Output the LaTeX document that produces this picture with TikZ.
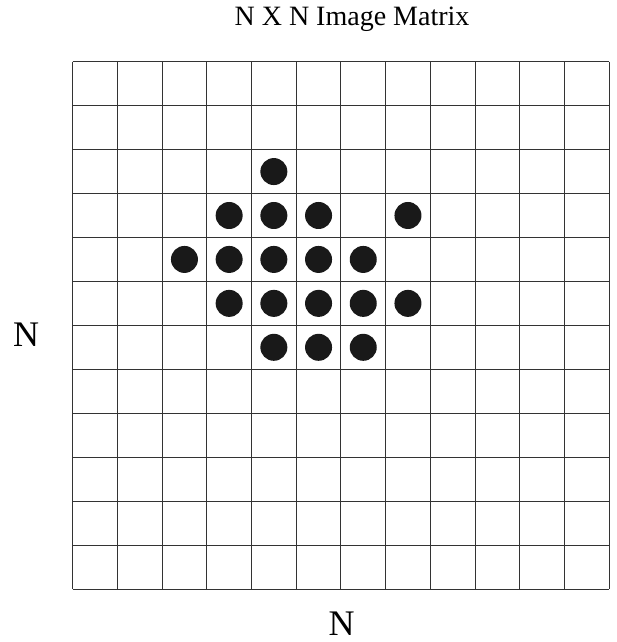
\documentclass[tikz,border=0pt]{standalone}
\usepackage{fontspec}
\setmainfont{Liberation Serif}
\begin{document}
\begin{tikzpicture}[x=1pt,y=-1pt,
  every node/.style={inner sep=0pt,anchor=base},
  ttl/.style={font=\fontsize{28}{32}\selectfont},
  lbl/.style={font=\fontsize{36}{40}\selectfont},
  gridline/.style={draw=black!80,line width=0.9pt},
  dot/.style={fill=black!90}
]
\useasboundingbox (0,0) rectangle (616,642);
\node[ttl] (title) at (352,26) {N X N Image Matrix};
\node[lbl] (nleft) at (26,346.7) {N};
\node[lbl] (nbottom) at (341.5,635.5) {N};

% 12 x 12 matrix
\foreach \i in {0,...,12} {
  \draw[gridline] ({72.7+\i*44.7},61.7) -- ({72.7+\i*44.7},589);
  \draw[gridline] (72.7,{61.7+\i*43.94}) -- (609.1,{61.7+\i*43.94});
}
\foreach \c/\r in {4/2,3/3,4/3,5/3,7/3,2/4,3/4,4/4,5/4,6/4,3/5,4/5,5/5,6/5,7/5,4/6,5/6,6/6}
  \fill[dot] ({72.7+(\c+0.5)*44.7},{61.7+(\r+0.5)*43.94}) circle (13.5pt);
\end{tikzpicture}
\end{document}
